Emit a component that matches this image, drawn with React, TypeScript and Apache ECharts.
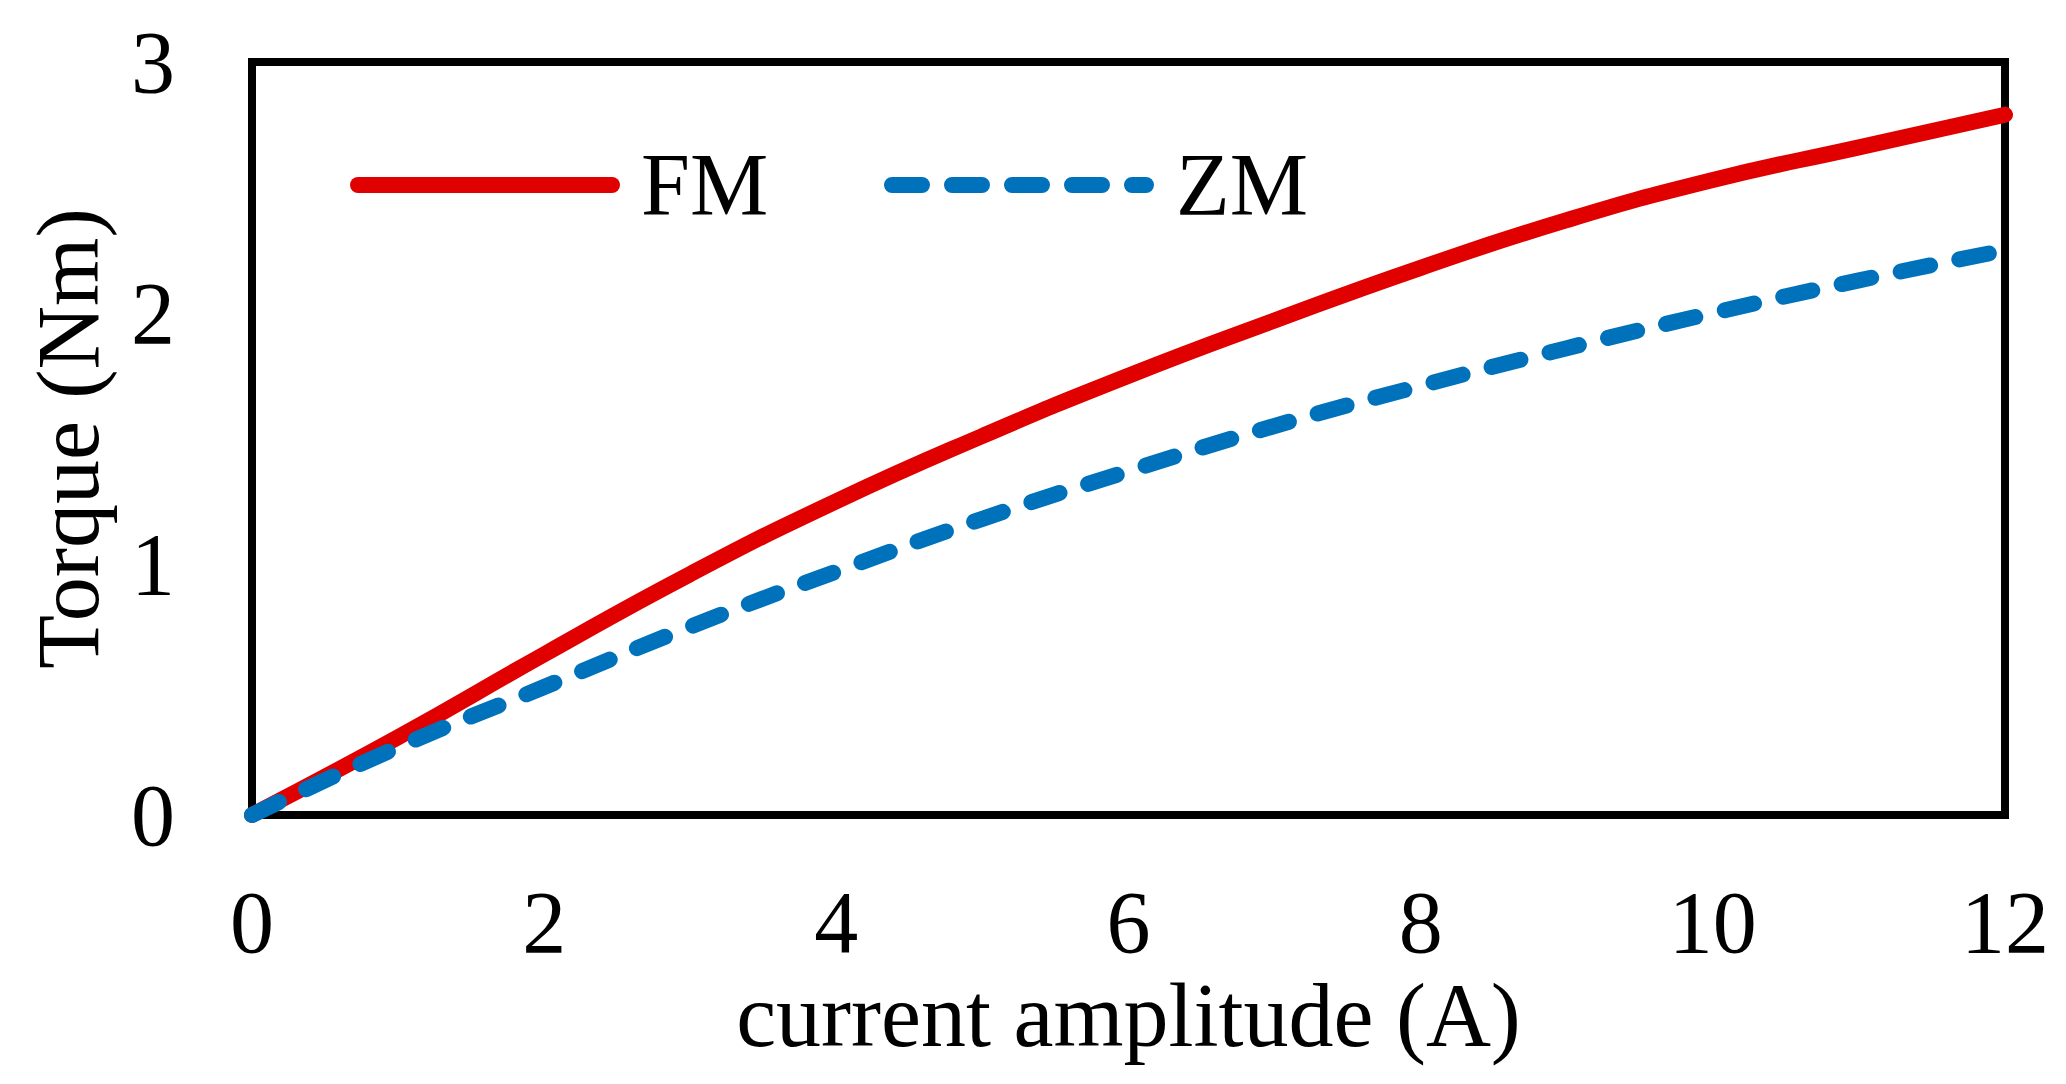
import React, { useEffect, useRef } from "react";
import * as echarts from "echarts";

const currentA = [0, 1, 2, 3, 4, 5, 6, 7, 8, 9, 10, 11, 12];
const torqueFM = [0, 0.31, 0.64, 0.96, 1.25, 1.51, 1.75, 1.97, 2.18, 2.37, 2.53, 2.66, 2.79];
const torqueZM = [0, 0.27, 0.51, 0.75, 0.97, 1.18, 1.37, 1.55, 1.71, 1.86, 2.0, 2.13, 2.25];
const seriesNames = ["FM", "ZM"];
const xTitle = "current amplitude (A)";
const yTitle = "Torque (Nm)";

const FONT = "'Times New Roman', 'Liberation Serif', serif";
const RED = "#E00000";
const BLUE = "#0072BC";

export default function App() {
  const ref = useRef<HTMLDivElement>(null);
  useEffect(() => {
    if (!ref.current) return;
    const chart = echarts.init(ref.current, null, { renderer: "svg" });
    const gl = 252, gr = 61, gt = 62, gb = 269;
    const legendY = 185;
    const option: any = {
      animation: false,
      backgroundColor: "#fff",
      grid: {
        left: gl, right: gr, top: gt, bottom: gb,
        show: true, borderColor: "#000", borderWidth: 8,
        backgroundColor: "transparent",
        containLabel: false,
        outerBoundsMode: "none",
      },
      xAxis: {
        type: "value", min: 0, max: 12, interval: 2,
        name: xTitle, nameLocation: "middle", nameGap: 148,
        nameTextStyle: { fontFamily: FONT, fontSize: 90, color: "#000" },
        axisLine: { show: false }, axisTick: { show: false }, splitLine: { show: false },
        axisLabel: { fontFamily: FONT, fontSize: 88, color: "#000", margin: 63 },
      },
      yAxis: {
        type: "value", min: 0, max: 3, interval: 1,
        name: yTitle, nameLocation: "middle", nameGap: 140,
        nameTextStyle: { fontFamily: FONT, fontSize: 88, color: "#000" },
        axisLine: { show: false }, axisTick: { show: false }, splitLine: { show: false },
        axisLabel: { fontFamily: FONT, fontSize: 88, color: "#000", margin: 77 },
      },
      series: [
        {
          name: seriesNames[0], type: "line", smooth: true, showSymbol: false, symbol: "none",
          clip: false, z: 3,
          data: currentA.map((x, i) => [x, torqueFM[i]]),
          lineStyle: { color: RED, width: 16, cap: "round", join: "round" },
          itemStyle: { color: RED },
        },
        {
          name: seriesNames[1], type: "line", smooth: true, showSymbol: false, symbol: "none",
          clip: false, z: 4,
          data: currentA.map((x, i) => [x, torqueZM[i]]),
          lineStyle: { color: BLUE, width: 16, type: [30, 30], cap: "round", join: "round" },
          itemStyle: { color: BLUE },
        },
      ],
      graphic: [
        {
          type: "line", z: 10,
          shape: { x1: 358, y1: legendY, x2: 612, y2: legendY },
          style: { stroke: RED, lineWidth: 16, lineCap: "round" },
        },
        {
          type: "text", z: 10, x: 641, y: 184,
          style: { text: seriesNames[0], fontFamily: FONT, fontSize: 88, fill: "#000", verticalAlign: "middle", align: "left" },
        },
        {
          type: "line", z: 10,
          shape: { x1: 892, y1: legendY, x2: 1146, y2: legendY },
          style: { stroke: BLUE, lineWidth: 16, lineCap: "round", lineDash: [30, 30] },
        },
        {
          type: "text", z: 10, x: 1176, y: 184,
          style: { text: seriesNames[1], fontFamily: FONT, fontSize: 88, fill: "#000", verticalAlign: "middle", align: "left" },
        },
      ],
    };
    chart.setOption(option);
    return () => chart.dispose();
  }, []);
  return (
    <div
      ref={ref}
      style={{ position: "fixed", left: 0, top: 0, width: 2066, height: 1084, background: "#fff" }}
    />
  );
}
